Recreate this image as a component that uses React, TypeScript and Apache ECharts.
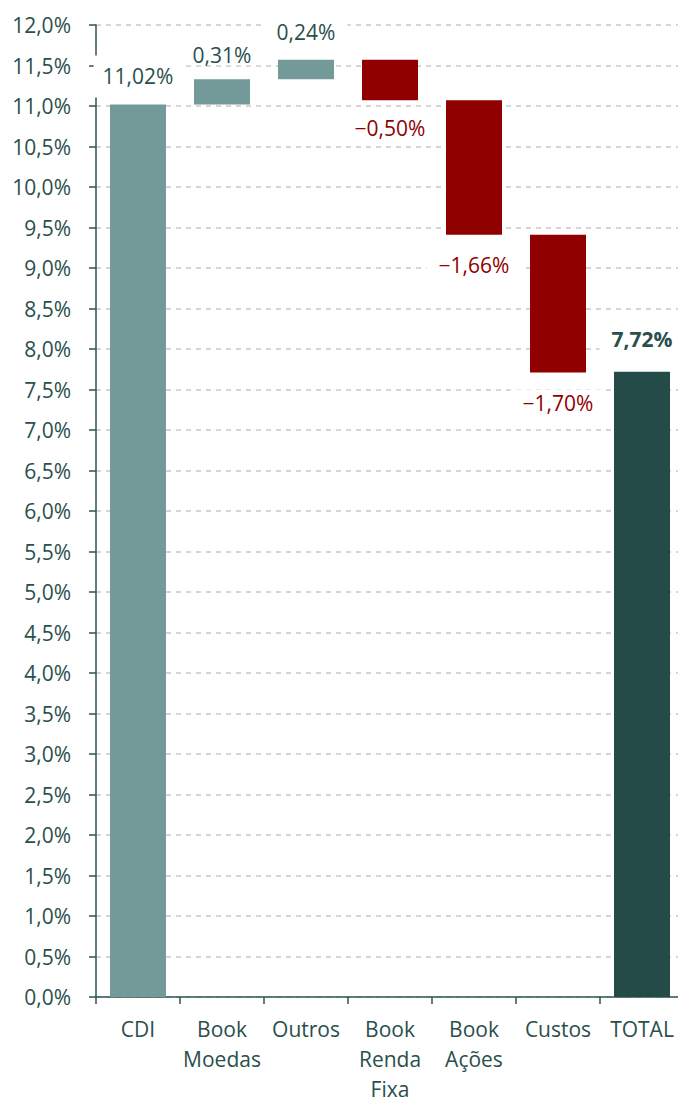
import React, { useEffect, useRef } from "react";
import * as echarts from "echarts";

const categories = ["CDI", "Book\nMoedas", "Outros", "Book\nRenda\nFixa", "Book\nAções", "Custos", "TOTAL"];
const changes = [11.02, 0.31, 0.24, -0.5, -1.66, -1.7, 7.72];
const kinds = ["start", "delta", "delta", "delta", "delta", "delta", "total"];
const yTicks = { min: 0, max: 12, interval: 0.5 };

// label styling (not data): distance from bar end and vertical padding, per bar
const labelDistance = [7, 14, 14, 14, 16, 17, 19];
const labelPadV = [10, 0, 3, 3, 3, 3, 3];

const TEXT = "#2a4f4c";
const AXIS = "#2d5451";
const LIGHT = "#739a98";
const RED = "#900000";
const DARK = "#254b49";
const FONT = "Open Sans";
const FS = 21;

function fmt(v: number) {
  const s = Math.abs(v).toFixed(2).replace(".", ",") + "%";
  return v < 0 ? "\u2212" + s : s;
}

export default function App() {
  const ref = useRef<HTMLDivElement>(null);
  useEffect(() => {
    if (!ref.current) return;
    const chart = echarts.init(ref.current, undefined, { renderer: "svg" });
    let run = 0;
    const bases: number[] = [];
    const heights: number[] = [];
    changes.forEach((c, i) => {
      if (kinds[i] === "total") {
        bases.push(0);
        heights.push(c);
      } else if (kinds[i] === "start") {
        bases.push(0);
        heights.push(c);
        run = c;
      } else {
        const next = run + c;
        bases.push(Math.min(run, next));
        heights.push(Math.abs(c));
        run = next;
      }
    });
    const valueData = heights.map((h, i) => {
      const neg = changes[i] < 0;
      const isTotal = kinds[i] === "total";
      const isStart = kinds[i] === "start";
      const color = neg ? RED : isTotal ? DARK : LIGHT;
      return {
        value: h,
        itemStyle: { color },
        label: {
          show: true,
          position: neg ? "bottom" : "top",
          distance: labelDistance[i],
          formatter: () => fmt(changes[i]),
          color: neg ? RED : TEXT,
          fontWeight: isTotal ? "bold" : "normal",
          fontFamily: FONT,
          fontSize: FS,
          lineHeight: labelPadV[i] === 0 ? 20 : 22,
          backgroundColor: "#ffffff",
          padding: [labelPadV[i], isStart ? 9 : 12],
        },
      };
    });
    chart.setOption({
      animation: false,
      grid: { left: 96, top: 25, width: 588, height: 972, containLabel: false, outerBoundsMode: "none" },
      xAxis: {
        type: "category",
        data: categories,
        axisLine: { show: true, lineStyle: { color: AXIS, width: 1.5 } },
        axisTick: { show: true, length: 7, lineStyle: { color: AXIS, width: 1.5 } },
        axisLabel: {
          color: TEXT,
          fontFamily: FONT,
          fontSize: FS,
          lineHeight: 30,
          margin: 17,
          interval: 0,
        },
      },
      yAxis: {
        type: "value",
        min: yTicks.min,
        max: yTicks.max,
        interval: yTicks.interval,
        axisLine: { show: true, lineStyle: { color: AXIS, width: 1.5 } },
        axisTick: { show: true, length: 7, lineStyle: { color: AXIS, width: 1.5 } },
        axisLabel: {
          color: TEXT,
          fontFamily: FONT,
          fontSize: FS,
          margin: 25,
          formatter: (v: number) => v.toFixed(1).replace(".", ",") + "%",
        },
        splitLine: { show: true, lineStyle: { color: "#c8c8c8", type: [5, 5], width: 1.5 } },
      },
      series: [
        {
          type: "bar",
          stack: "w",
          silent: true,
          barWidth: 56,
          itemStyle: { color: "transparent" },
          data: bases,
        },
        {
          type: "bar",
          stack: "w",
          barWidth: 56,
          data: valueData,
        },
      ],
    });
    return () => chart.dispose();
  }, []);
  return (
    <div style={{ position: "absolute", left: 0, top: 0, width: 678, height: 1104, overflow: "hidden" }}>
      <div ref={ref} style={{ width: 700, height: 1104 }} />
    </div>
  );
}
